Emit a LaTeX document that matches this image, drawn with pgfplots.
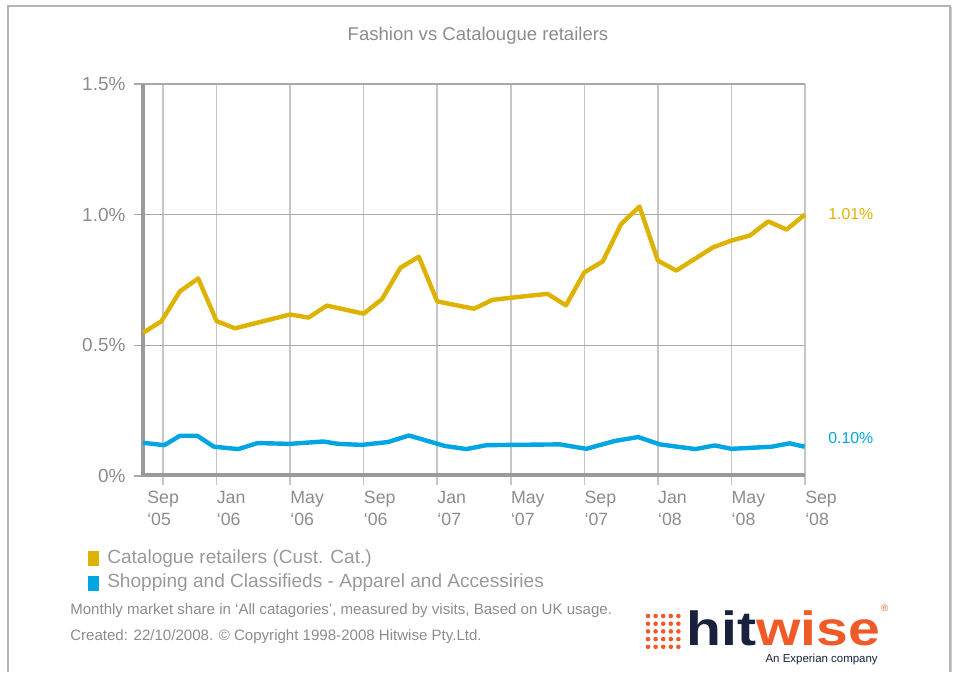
\documentclass[border=0pt]{standalone}
\usepackage{pgfplots}
\pgfplotsset{compat=1.18}
\usepackage{fontspec}
\setmainfont{Liberation Sans}
\definecolor{gold}{HTML}{DEB200}
\definecolor{sky}{HTML}{00A6E2}
\definecolor{axgray}{HTML}{9A9A9A}
\definecolor{hgrid}{HTML}{A8A8A8}
\definecolor{vgrid}{HTML}{C6C6C6}
\definecolor{txtgray}{HTML}{8C8C8C}
\definecolor{leggray}{HTML}{999999}
\definecolor{navy}{HTML}{18223D}
\definecolor{orng}{HTML}{F05A28}
\definecolor{frame}{HTML}{B4B4B4}
\begin{document}
\begin{tikzpicture}[x=0.75pt,y=0.75pt]
\path[use as bounding box] (0,0) rectangle (957,672);
% outer frame
\draw[frame, line width=1.1pt] (8,0) -- (8,666) -- (950,666) -- (950,0);
\draw[frame!70, line width=0.8pt] (951.5,0) -- (951.5,665);
% title
\node[text=txtgray, font=\fontsize{13.9}{16}\selectfont] at (478,636) {Fashion vs Catalougue retailers};
\begin{axis}[
  at={(107.25pt,147pt)}, anchor=south west,
  scale only axis, width=496.5pt, height=294pt,
  xmin=0, xmax=36, ymin=0, ymax=1.5,
  clip=false,
  axis line style={draw=none},
  tick align=outside,
  tick pos=left,
  major tick length=7pt,
  xtick={1.09,4,8,12,16,20,24,28,32,36},
  xticklabels={},
  xmajorgrids,
  x grid style={draw=vgrid, line width=1.1pt},
  x tick style={draw=vgrid, line width=1.1pt},
  extra x ticks={0.22,4,8,12,16,20,24,28,32,36},
  extra x tick labels={{Sep\\‘05},{Jan\\‘06},{May\\‘06},{Sep\\‘06},{Jan\\‘07},{May\\‘07},{Sep\\‘07},{Jan\\‘08},{May\\‘08},{Sep\\‘08}},
  extra x tick style={grid=none, major tick length=0pt,
    xticklabel style={anchor=north west, align=left, inner sep=0pt, yshift=-11pt,
      text=txtgray, font=\fontsize{13.3}{16.5}\selectfont}},
  ytick={0,0.5,1,1.5},
  yticklabels={0\%,0.5\%,1.0\%,1.5\%},
  ymajorgrids,
  y grid style={draw=hgrid, line width=1pt},
  y tick style={draw=hgrid, line width=1pt},
  yticklabel style={anchor=east, inner sep=0pt, xshift=-6pt, text=txtgray, font=\fontsize{14.2}{16}\selectfont},
]
\draw[axgray, line width=2.4pt] (axis cs:0,0) -- (axis cs:0,1.5);
\draw[axgray, line width=2.6pt] (axis cs:0,0.004) -- (axis cs:36,0.004);
\addplot[gold, line width=3.3pt, line join=round] coordinates {
(0,0.548) (1,0.592) (2,0.706) (3,0.756) (4,0.593) (5,0.565) (8,0.618)
(9,0.606) (10,0.652) (12,0.621) (13,0.677) (14,0.797) (15,0.839) (16,0.668)
(18,0.640) (19,0.674) (20,0.682) (22,0.697) (23,0.653) (24,0.779) (25,0.821)
(26,0.964) (27,1.031) (28,0.824) (29,0.786) (31,0.875) (32,0.901) (33,0.920)
(34,0.974) (35,0.943) (36,1.001)};
\addplot[sky, line width=3.3pt, line join=round] coordinates {
(0,0.127) (1.16,0.118) (2.01,0.154) (2.95,0.154) (3.86,0.112) (5.18,0.103)
(6.23,0.126) (7.99,0.123) (9.80,0.132) (10.61,0.123) (11.89,0.119) (13.33,0.130)
(14.46,0.155) (16.41,0.115) (17.59,0.103) (18.68,0.118) (22.66,0.121) (24.11,0.104)
(25.65,0.134) (26.92,0.149) (28.10,0.121) (30.04,0.103) (31.09,0.117) (32.0,0.104)
(34.17,0.112) (35.16,0.125) (35.98,0.112)};
\end{axis}
% end labels
\node[anchor=west, inner sep=0pt, text=gold, font=\fontsize{11.9}{14}\selectfont] at (828,458) {1.01\%};
\node[anchor=west, inner sep=0pt, text=sky, font=\fontsize{11.9}{14}\selectfont] at (828,234) {0.10\%};
% legend
\fill[gold] (88,106) rectangle (99,121);
\fill[sky] (88,81) rectangle (99,96);
\node[anchor=west, inner sep=0pt, text=leggray, font=\fontsize{14.3}{17}\selectfont] at (107,113) {Catalogue retailers (Cust. Cat.)};
\node[anchor=west, inner sep=0pt, text=leggray, font=\fontsize{14.3}{17}\selectfont] at (107,89) {Shopping and Classifieds - Apparel and Accessiries};
% footnotes
\node[anchor=west, inner sep=0pt, text=txtgray, font=\fontsize{11.3}{13}\selectfont] at (70,61) {Monthly market share in ‘All catagories’, measured by visits, Based on UK usage.};
\node[anchor=west, inner sep=0pt, text=txtgray, font=\fontsize{11.3}{13}\selectfont] at (70,35) {Created: 22/10/2008. © Copyright 1998-2008 Hitwise Pty.Ltd.};
% logo
\foreach \j/\cols in {0/{n,n,n,n,n},1/{n,n,o,n,n},2/{n,o,n,o,n},3/{o,o,o,o,n},4/{o,o,o,o,o}}{
  \foreach \c [count=\i from 0] in \cols {
    \ifx\c n \def\dc{navy}\else\def\dc{orng}\fi
    \fill[\dc] (648+7.6*\i, 56-7.7*\j) circle (2.3);
  }
}
\node[anchor=base west, inner sep=0pt, text depth=0pt, text height=26pt, xscale=1.19, font=\fontsize{36}{40}\bfseries\selectfont] at (686,27) {\textcolor{navy}{hit}\textcolor{orng}{wise}};
\node[anchor=south west, inner sep=0pt, text=orng, font=\fontsize{7}{8}\selectfont] at (881,60) {®};
\node[anchor=east, inner sep=0pt, text=navy, font=\fontsize{8.6}{10}\selectfont] at (878,12) {An Experian company};
\end{tikzpicture}
\end{document}
